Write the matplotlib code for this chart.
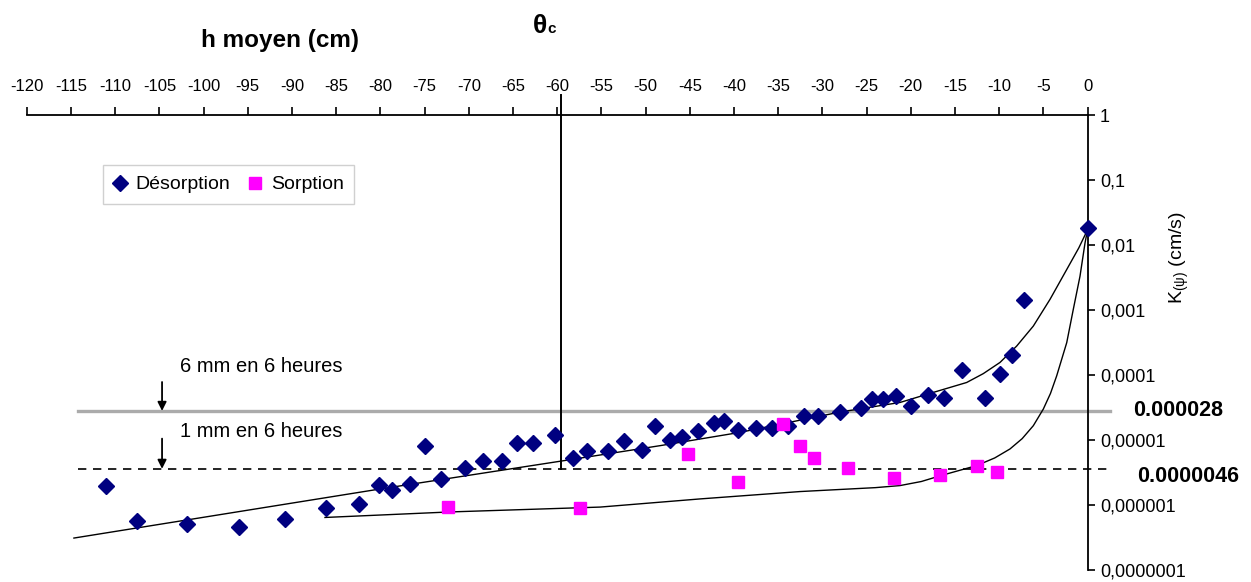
import matplotlib
matplotlib.use("Agg")
import matplotlib.pyplot as plt
from matplotlib.ticker import FixedLocator, FixedFormatter

plt.rcParams["font.family"] = ["Liberation Sans", "DejaVu Sans"]

# --- data (h in cm, K in cm/s) ---
h_des = [-111.0, -107.5, -101.9, -96.0, -90.8, -86.2, -82.4, -80.2, -78.7, -76.7,
         -74.9, -73.1, -70.4, -68.4, -66.3, -64.5, -62.7, -60.2, -58.2, -56.6,
         -54.3, -52.5, -50.4, -48.9, -47.2, -45.9, -44.1, -42.3, -41.1, -39.5,
         -37.5, -35.7, -33.9, -32.1, -30.5, -28.0, -25.6, -24.4, -23.2, -21.7,
         -20.0, -18.1, -16.2, -14.2, -11.6, -9.9, -8.5, -7.2, 0.0]
k_des = [1.99e-6, 5.66e-7, 5.15e-7, 4.58e-7, 6.14e-7, 9.06e-7, 1.05e-6, 2.0e-6, 1.73e-6, 2.11e-6,
         8.18e-6, 2.52e-6, 3.76e-6, 4.76e-6, 4.76e-6, 8.9e-6, 8.9e-6, 1.19e-5, 5.36e-6, 6.71e-6,
         6.71e-6, 9.55e-6, 7.08e-6, 1.66e-5, 1.0e-5, 1.1e-5, 1.36e-5, 1.8e-5, 1.94e-5, 1.42e-5,
         1.53e-5, 1.53e-5, 1.66e-5, 2.36e-5, 2.36e-5, 2.66e-5, 3.1e-5, 4.26e-5, 4.26e-5, 4.78e-5,
         3.36e-5, 4.9e-5, 4.4e-5, 1.2e-4, 4.4e-5, 1.05e-4, 2.01e-4, 1.42e-3, 1.83e-2]

h_sorp = [-72.3, -57.4, -45.2, -39.5, -34.5, -32.5, -30.9, -27.1, -21.9, -16.7, -12.5, -10.3]
k_sorp = [9.16e-7, 8.96e-7, 6.0e-6, 2.25e-6, 1.75e-5, 8.04e-6, 5.2e-6, 3.69e-6, 2.59e-6,
          2.94e-6, 3.99e-6, 3.2e-6]

# fitted curves (traced)
h_fit_des = [-114.67, -80.42, -59.68, -48.37, -39.32, -28.01, -21.22, -17.45, -13.68,
             -11.8, -9.91, -8.02, -6.14, -4.25, -2.36, -1.0, 0.0]
k_fit_des = [3.10e-7, 1.73e-6, 4.71e-6, 8.18e-6, 1.31e-5, 2.69e-5, 3.78e-5, 5.40e-5, 7.67e-5,
             1.05e-4, 1.56e-4, 2.79e-4, 5.66e-4, 1.46e-3, 4.20e-3, 9.0e-3, 1.72e-2]
h_fit_sorp = [-86.27, -72.13, -55.15, -43.85, -32.53, -24.0, -21.22, -18.8, -16.62, -12.55,
              -10.5, -8.78, -7.4, -6.14, -5.01, -4.2, -3.50, -2.36, -1.62, -0.86, -0.29, 0.0]
k_fit_sorp = [6.43e-7, 7.82e-7, 9.29e-7, 1.24e-6, 1.61e-6, 1.85e-6, 1.99e-6, 2.3e-6, 2.83e-6,
              4.04e-6, 5.3e-6, 7.28e-6, 1.05e-5, 1.66e-5, 2.99e-5, 5.2e-5, 9.68e-5, 3.15e-4,
              1.02e-3, 3.31e-3, 1.08e-2, 1.72e-2]

x_ticks = list(range(-120, 1, 5))
x_labels = [str(v) for v in x_ticks]
y_ticks = [1, 0.1, 0.01, 0.001, 0.0001, 0.00001, 0.000001, 0.0000001]
y_labels = ["1", "0,1", "0,01", "0,001", "0,0001", "0,00001", "0,000001", "0,0000001"]

k_6mm = 0.000028        # 6 mm en 6 heures
k_1mm_drawn = 0.0000036  # dashed line as drawn (labelled 0.0000046)
h_theta = -59.6
h_lines = (-114.2, 2.5)

# --- figure ---
W, H = 1251, 582
fig = plt.figure(figsize=(W / 100, H / 100), dpi=100)
ax = fig.add_axes([0, (H - 570) / H, 1, 455 / H])
ax.set_xlim((0 - 1087.6) / 8.84, (W - 1087.6) / 8.84)
ax.set_yscale("log")
ax.set_ylim(1e-7, 1)

for s in ("left", "bottom"):
    ax.spines[s].set_visible(False)
ax.spines["right"].set_position(("data", 0))
ax.spines["top"].set_bounds(-120, 0)
for s in ("right", "top"):
    ax.spines[s].set_linewidth(1.3)

ax.xaxis.set_ticks_position("top")
ax.yaxis.set_ticks_position("right")
ax.xaxis.set_major_locator(FixedLocator(x_ticks))
ax.xaxis.set_major_formatter(FixedFormatter(x_labels))
ax.yaxis.set_major_locator(FixedLocator(y_ticks))
ax.yaxis.set_major_formatter(FixedFormatter(y_labels))
ax.yaxis.set_minor_locator(FixedLocator([]))
ax.tick_params(axis="x", direction="out", length=6, width=1.2, pad=9, labelsize=12)
ax.tick_params(axis="y", direction="out", length=5, width=1.2, pad=4, labelsize=13)

# reference levels
ax.plot(h_lines, [k_6mm, k_6mm], color="#ababab", lw=2.4, zorder=1)
ax.plot(h_lines, [k_1mm_drawn, k_1mm_drawn], color="black", lw=1.2,
        dashes=(5, 4), zorder=1)
ax.plot([h_theta, h_theta], [k_1mm_drawn, 2.0], color="black", lw=1.4,
        clip_on=False, zorder=2)

# fits
ax.plot(h_fit_des, k_fit_des, color="black", lw=1.0, zorder=2)
ax.plot(h_fit_sorp, k_fit_sorp, color="black", lw=1.0, zorder=2)

# points
ax.plot(h_des, k_des, ls="none", marker="D", ms=8.5, color="#000080",
        label="Désorption", zorder=3, clip_on=False)
ax.plot(h_sorp, k_sorp, ls="none", marker="s", ms=8.5, color="#ff00ff",
        label="Sorption", zorder=4)

ax.legend(loc="upper left", bbox_to_anchor=(103 / W, 1 - 165 / H),
          bbox_transform=fig.transFigure, ncol=2, fontsize=14,
          handlelength=0.6, handletextpad=0.5, columnspacing=1.0,
          borderaxespad=0, fancybox=False, edgecolor="#d0d0d0",
          framealpha=1, borderpad=0.55)

# annotations
ax.text(-102.7, 1.36e-4, "6 mm en 6 heures", fontsize=14.5, va="center")
ax.text(-102.7, 1.37e-5, "1 mm en 6 heures", fontsize=14.5, va="center")
arrow = dict(arrowstyle="-|>", color="black", lw=1.3, mutation_scale=13,
             shrinkA=0, shrinkB=0)
ax.annotate("", xy=(-104.7, k_6mm), xytext=(-104.7, 7.8e-5), arrowprops=arrow)
ax.annotate("", xy=(-104.7, k_1mm_drawn), xytext=(-104.7, 1.05e-5), arrowprops=arrow)

ax.text(5.15, k_6mm, "0.000028", fontsize=15.5, fontweight="bold", va="center")
ax.text(5.6, 2.71e-6, "0.0000046", fontsize=15.5, fontweight="bold", va="center")

fig.text(1179 / W, 1 - 258 / H, r"K$_{\mathregular{(ψ)}}$ (cm/s)", rotation=90,
         ha="center", va="center", fontsize=14)
fig.text(280 / W, 1 - 40 / H, "h moyen (cm)", fontsize=17.5, fontweight="bold",
         ha="center", va="center")
fig.text(540 / W, 1 - 33 / H, "θ", fontsize=19, fontweight="bold",
         ha="center", va="baseline")
fig.text(547 / W, 1 - 33 / H, "c", fontsize=11, fontweight="bold",
         ha="left", va="baseline")

fig.savefig("out.png", dpi=100)
